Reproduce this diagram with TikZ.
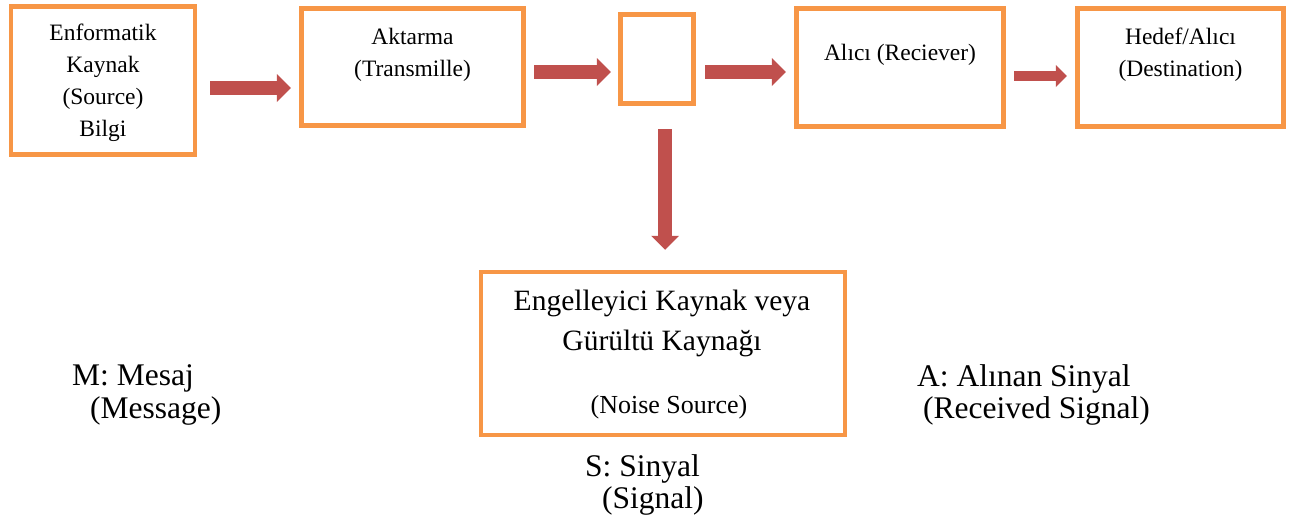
\documentclass[tikz,border=0pt]{standalone}
\usepackage{fontspec}
\setmainfont{Liberation Serif}
\usetikzlibrary{arrows.meta}
\definecolor{boxorange}{HTML}{F79646}
\definecolor{arrowred}{HTML}{C0504D}
\begin{document}
\begin{tikzpicture}[x=1pt,y=-1pt,
  blk/.style={draw=boxorange, line width=4.5pt, fill=white, inner sep=0pt, rectangle},
  bigarrow/.style={draw=arrowred, line width=14pt, -{Triangle[length=14pt,width=28pt,line width=0pt]}},
  smallarrow/.style={draw=arrowred, line width=10pt, -{Triangle[length=11pt,width=22pt,line width=0pt]}},
  boxtxt/.style={inner sep=0pt, anchor=base, font=\fontsize{23.5}{28}\selectfont},
  noisebig/.style={inner sep=0pt, anchor=base, font=\fontsize{29.5}{34}\selectfont},
  noisesmall/.style={inner sep=0pt, anchor=base, font=\fontsize{26}{30}\selectfont},
  lbl/.style={inner sep=0pt, anchor=base west, font=\fontsize{31.5}{36}\selectfont}]
\fill[white] (0,0) rectangle (1296,525);
\useasboundingbox (0,0) rectangle (1296,525);
% boxes
\node[blk, minimum width=184pt, minimum height=148pt] (b1) at (103,80.5) {};
\node[blk, minimum width=222pt, minimum height=117pt] (b2) at (412.5,67) {};
\node[blk, minimum width=73pt, minimum height=89pt] (b3) at (657,59) {};
\node[blk, minimum width=207pt, minimum height=118pt] (b4) at (900,67.5) {};
\node[blk, minimum width=206pt, minimum height=118pt] (b5) at (1180.5,67.5) {};
\node[blk, minimum width=364pt, minimum height=163pt] (b6) at (663,353.5) {};
% box texts
\node[boxtxt] (t1a) at (103,40.5) {Enformatik};
\node[boxtxt] (t1b) at (103,72.5) {Kaynak};
\node[boxtxt] (t1c) at (103,104.5) {(Source)};
\node[boxtxt] (t1d) at (103,136) {Bilgi};
\node[boxtxt] (t2a) at (412.5,44.3) {Aktarma};
\node[boxtxt] (t2b) at (412.5,76.5) {(Transmille)};
\node[boxtxt] (t4a) at (900,60.7) {Alıcı (Reciever)};
\node[boxtxt] (t5a) at (1180.5,44.3) {Hedef/Alıcı};
\node[boxtxt] (t5b) at (1180.5,76.3) {(Destination)};
\node[noisebig] (t6a) at (662,310.7) {Engelleyici Kaynak veya};
\node[noisebig] (t6b) at (662,350) {Gürültü Kaynağı};
\node[noisesmall] (t6c) at (669,413) {(Noise Source)};
% labels
\node[lbl] (m1) at (72,385) {M: Mesaj};
\node[lbl] (m2) at (90,418) {(Message)};
\node[lbl] (s1) at (585,476) {S: Sinyal};
\node[lbl] (s2) at (602,508) {(Signal)};
\node[lbl] (r1) at (917,386) {A: Alınan Sinyal};
\node[lbl] (r2) at (923,418) {(Received Signal)};
% arrows
\draw[bigarrow] ([shift={(13,7.5)}]b1.east) -- ([shift={(-8.5,21)}]b2.west);
\draw[bigarrow] ([shift={(8.5,5)}]b2.east) -- ([shift={(-7.5,13)}]b3.west);
\draw[bigarrow] ([shift={(9.5,13)}]b3.east) -- ([shift={(-8.5,4.5)}]b4.west);
\draw[smallarrow] ([shift={(8.5,8.5)}]b4.east) -- ([shift={(-8.5,8.5)}]b5.west);
\draw[bigarrow] ([shift={(8,23.5)}]b3.south) -- ([shift={(2,-20)}]b6.north);
\end{tikzpicture}
\end{document}
